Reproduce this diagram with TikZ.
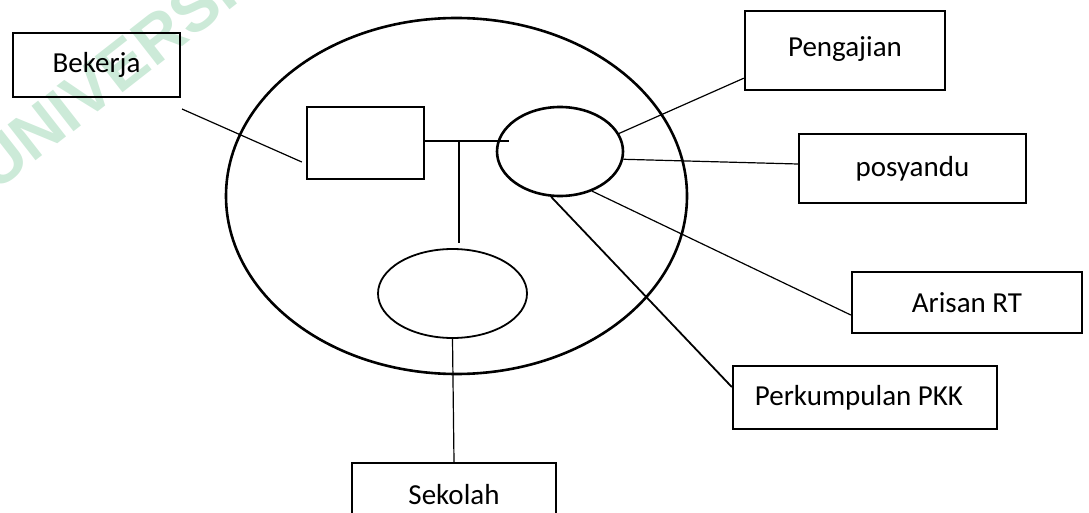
\documentclass[tikz,border=0pt]{standalone}
\usepackage{fontspec}
\setmainfont{Carlito}
\newfontfamily\wmfont{Liberation Sans}
\usetikzlibrary{shapes.geometric}
\definecolor{wmgreen}{RGB}{204,234,216}
\tikzset{
	kotak/.style={draw, line width=2.4pt, inner sep=0pt, font=\fontsize{29}{35}\selectfont},
	lingkar/.style={draw, ellipse, inner sep=0pt},
	garis/.style={line width=1.2pt}
}
\begin{document}
\begin{tikzpicture}[x=1pt,y=-1pt]
	\useasboundingbox (0,0) rectangle (1089,513);
	\clip (0,0) rectangle (1089,513);
	\node[wmgreen, rotate=38, anchor=west, inner sep=0pt, font=\wmfont\bfseries\fontsize{66}{70}\selectfont] (wm) at (-19,175) {UNIVERSITAS};
	% lingkaran
	\node[lingkar, line width=2.6pt, minimum width=461pt, minimum height=356pt] (besar) at (456.5,196) {};
	\node[lingkar, line width=2.6pt, minimum width=126pt, minimum height=89pt] (keg) at (560,151.5) {};
	\node[lingkar, line width=1.8pt, minimum width=149pt, minimum height=89pt] (bawah) at (452.5,293.5) {};
	\node[kotak, minimum width=117pt, minimum height=72pt] (dalam) at (365.5,143) {};
	% kotak luar
	\node[kotak, minimum width=167pt, minimum height=64pt] (bekerja) at (96.5,65) {Bekerja};
	\node[kotak, minimum width=200pt, minimum height=79pt] (peng) at (845,50.5) {\raisebox{8pt}{Pengajian}};
	\node[kotak, minimum width=227pt, minimum height=69pt] (posy) at (912.5,168.5) {posyandu};
	\node[kotak, minimum width=230pt, minimum height=61pt] (arisan) at (967,302.5) {Arisan RT};
	\node[kotak, minimum width=264pt, minimum height=63pt] (pkk) at (865,397.5) {Perkumpulan PKK\hspace*{12pt}};
	\node[kotak, minimum width=204pt, minimum height=64pt] (sekolah) at (454,495) {Sekolah};
	% garis
	\coordinate (ujungB) at (182,109);
	\coordinate (ujungT) at (509,141);
	\coordinate (cabang) at (459,141);
	\coordinate (ujungV) at (459,243);
	\draw[garis] (ujungB) -- ([xshift=-4pt,yshift=-19pt]dalam.west);
	\draw[garis] ([yshift=2pt]dalam.east) -- (ujungT);
	\draw[garis] (cabang) -- (ujungV);
	\draw[garis] (bawah.south) -- (sekolah.north);
	\draw[garis] (keg.17) -- ([yshift=13pt]peng.south west);
	\draw[garis] (keg.-7) -- ([yshift=4.5pt]posy.west);
	\draw[garis] (keg.-51) -- ([yshift=-12.5pt]arisan.west);
	\draw[line width=1.8pt] (keg.-101) -- ([yshift=10.5pt]pkk.west);
\end{tikzpicture}
\end{document}
